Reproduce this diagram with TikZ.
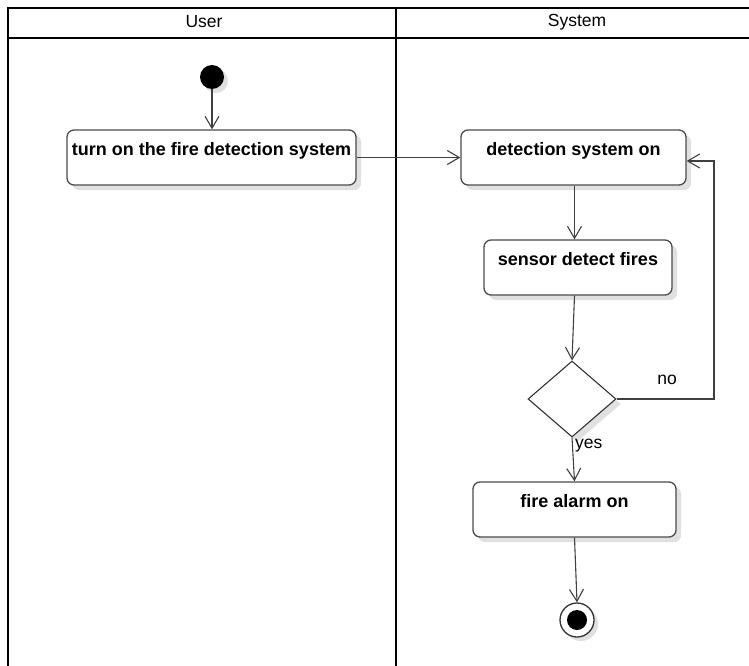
\documentclass[tikz,border=0pt]{standalone}
\usepackage{fontspec}
\setmainfont{Liberation Sans}
\usetikzlibrary{shapes.geometric}
\usetikzlibrary{shadows}
\usetikzlibrary{arrows.meta}

\begin{document}
\begin{tikzpicture}[x=1pt, y=-1pt,
		lane/.style={draw=black, line width=1.6pt},
		actbox/.style={rectangle, rounded corners=7pt, draw=black!70, line width=1.3pt, fill=white,
			drop shadow={fill=black!12, opacity=1, shadow xshift=5pt, shadow yshift=-5pt},
			font=\fontsize{18}{21}\selectfont\bfseries, inner sep=0pt, minimum height=55pt,
			text height=13pt, text depth=18pt},
		flow/.style={draw=black!75, line width=1.1pt, -{Straight Barb[length=12pt, width=14pt, line width=1.1pt]}},
		lbl/.style={font=\fontsize{17.5}{20}\selectfont, inner sep=0pt}]
	\useasboundingbox (0,0) rectangle (749,666);
	% swimlanes
	\draw [lane] (749,8) -- (8,8) -- (8,666);
	\draw [lane] (8,38) -- (749,38);
	\draw [lane] (396,8) -- (396,666);
	\node [lbl] (user) at (204,22) {User};
	\node [lbl] (system) at (577,22) {System};
	% activity nodes
	\node [circle, fill=black, inner sep=0pt, minimum size=24pt,
		drop shadow={fill=black!12, opacity=1, shadow xshift=4pt, shadow yshift=-4pt}] (start) at (212,77) {};
	\node [actbox, minimum width=289pt] (turnon) at (211.5,157.5) {turn on the fire detection system};
	\node [actbox, minimum width=225pt] (syson) at (573.5,157.5) {detection system on};
	\node [actbox, minimum width=188pt] (sensor) at (578,267.5) {sensor detect fires};
	\node [diamond, draw=black!80, line width=1.1pt, fill=white, inner sep=0pt, aspect=1.16,
		minimum width=88pt, minimum height=76pt,
		drop shadow={fill=black!12, opacity=1, shadow xshift=5pt, shadow yshift=-5pt}] (check) at (572,399) {};
	\node [actbox, minimum width=203pt] (alarm) at (574.5,509.5) {fire alarm on};
	\node [circle, draw=black!80, line width=1.3pt, fill=white, minimum size=34pt, inner sep=0pt,
		drop shadow={fill=black!12, opacity=1, shadow xshift=4pt, shadow yshift=-4pt}] (stop) at (577,620) {};
	\node [circle, fill=black, minimum size=20pt, inner sep=0pt] (stopdot) at (stop) {};
	% control flow
	\draw [flow] (start) -- (start |- turnon.north);
	\draw [flow] (turnon.east) -- (syson.west);
	\draw [flow] (syson.south -| 574.5,0) -- (sensor.north -| 574.5,0);
	\draw [flow] (sensor.south -| 574.5,0) -- (check.north);
	\draw [flow] (check.south) -- (alarm.north);
	\draw [flow] (alarm.south) -- (stop.north);
	\coordinate (back) at (714,161);
	\draw [flow] (check.east) -| (back) -- (back -| syson.east);
	\node [lbl] (no) at (667,380) {no};
	\node [lbl, anchor=west] (yes) at (575,446) {yes};
\end{tikzpicture}
\end{document}
